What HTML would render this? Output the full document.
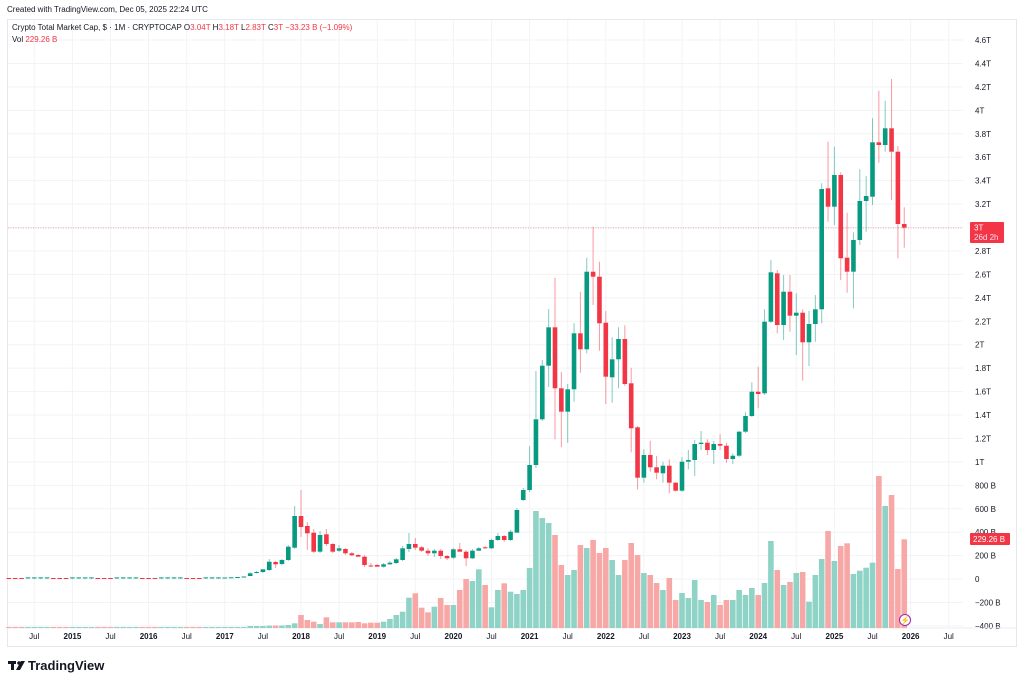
<!DOCTYPE html>
<html><head><meta charset="utf-8"><style>
body{margin:0;background:#fff;width:1024px;height:687px;overflow:hidden;font-family:"Liberation Sans",sans-serif}
svg{position:absolute;left:0;top:0}
</style></head><body>
<svg id="c" width="1024" height="687" xmlns="http://www.w3.org/2000/svg" font-family="Liberation Sans, sans-serif"></svg>
<script>
const G='#089981',R='#f23645',VG='#8fd3c6',VR='#f7a8a6';
let s='';
s+='<rect x="7.5" y="19.5" width="1009" height="627" fill="#fff" stroke="#e6e8ee"/>';
// grid horizontals
const ticks=['4.6T','4.4T','4.2T','4T','3.8T','3.6T','3.4T','3.2T','3T','2.8T','2.6T','2.4T','2.2T','2T','1.8T','1.6T','1.4T','1.2T','1T','800 B','600 B','400 B','200 B','0','−200 B','−400 B'];
for(let i=0;i<ticks.length;i++){const y=40+i*(586/25);
 s+=`<line x1="8" x2="963" y1="${y}" y2="${y}" stroke="#f2f3f6"/>`;
 if(ticks[i]!=='3T') s+=`<text x="975" y="${y+3}" font-size="8" fill="#131722">${ticks[i]}</text>`;}
// vertical grid + time labels
for(let Y=2014;Y<=2026;Y++){for(const h of [0,0.5]){const x=301+(Y-2018+h)*76.2;if(x<20||x>960)continue;
 s+=`<line x1="${x}" x2="${x}" y1="20" y2="628" stroke="#f2f3f6"/>`;
 s+=`<text x="${x}" y="639" font-size="8" fill="#131722" text-anchor="middle" font-weight="${h?'normal':'bold'}">${h?'Jul':Y}</text>`;}}
s+='<line x1="8" x2="1016" y1="628" y2="628" stroke="#eceef2"/>';
// data: [o,h,l,c] pixel y
let D=[];
for(let i=0;i<34;i++){D.push([578,577.5,579,578.6-(i%7<3?0:1.2)]);}
D.push(...[
[578,577.5,578.5,577.5],[577.5,577,578,577.3],[577.3,576.5,578,577],[577,576,577.5,576.5],
[576,572,576.5,573.3],[572.7,571,573.5,572],[572,569,573,569.3],[570,559,571,561.7],[562,561,568,564.3],[564,559,565,560],[560,545,561,546.7],[547.7,506,549,516],
[516,490,537,527],[526,522,550,533.3],[532.7,529,553,551.7],[551.7,531,553,535],[534.3,529,546,544],[544,543,553,551.7],[550.7,545,552,548.3],[549,548,555,553.3],[553.3,552,556,555.3],[555,554,557,556.7],[556.7,555,567,565],[565.5,563,567,566],
[565,564,567,566.7],[566.7,563,567.5,564.3],[564.3,561,565,562.7],[563,558,564,559.3],[560,546,561,548.3],[549,533,552,544],[544,538,550,547.7],[547.3,546,552,550.7],[550.7,548,556,553.3],[553.3,549,557,550.7],[550.7,549,559,556],[556,555,560,558.3],
[557.7,548,559,549.3],[549.3,543,552,551.7],[551.7,550,566,558.3],[558.3,549,559,550.7],[550.7,547,551,548.3],[547.3,546,549,548.3],[548.3,539,549,540],[540,533,541,536],[536,535,542,540],[540,530,541,531.7],[532.7,508,533,510],
[500,488,501,490],
[490,446,492,465],[465,371,468,419.3],[419.3,360,421,365.7],[365.7,309,387,327.3],[327.3,277.7,439.3,388.3],[388.3,372,447.3,411.7],[411.7,384,442.7,389.3],[389.3,323.3,401.7,333.3],[333.3,291.7,372.7,349.3],[349.3,257.7,353.3,271.7],[271.7,226.7,305,276.7],[276.7,261.7,350.7,323.3],
[322.7,311,404,376.7],[377.3,337.3,402.7,359.3],[359.3,327.3,388.3,339],[339,325.3,386,384],[383.3,367.7,452.3,428.3],[427.3,426,489.3,477.7],[477.7,449.3,482.7,455],[455,440.7,471.7,467.3],[467.3,456,479.3,472.7],[473.3,461.7,482.7,465.7],[465.7,459.3,493.3,482.7],[482.7,482,491.7,490.7],
[490.7,457.3,492,461.7],[461.7,450,469.3,460],[460,440,476,444],[444,431,450,442.7],[442.7,439.3,455,450],[450,441,464,444],[444,434.3,450,445.7],[445.7,442.7,462.7,459],[459,453.3,464,455.7],[455.7,430.7,457,431.7],[431.7,412.3,433,416],[416,382.3,417,391.7],
[391.7,366.7,408.3,394],[393.3,309.3,395,321.7],[321.7,260,323,272.3],[273.3,270,333.3,325],[325,275,340,291.7],[291.7,275,331.7,315.7],[315.7,293.3,355,312.7],[312.7,309.3,380.7,342.3],[342.3,311,366,324],[324,295,341.7,309.3],[309.3,183.3,323.3,189],[188.3,141.7,221.7,206.7],
[206.7,146.7,225,175],[175,172.3,280,258.3],[257.7,212.7,292.7,271.7],[271.7,232.3,308.3,240],[240,169.3,245,201],[201,176,231.7,196],[196.7,118.3,205,142.3],[142.3,90.7,162.7,145],[145,100.7,151.7,128.3],[128.3,79,200,151.7],[151.7,146,258.3,224],[224,207.3,247.7,227.7]
]);
// volume tops (pixel y)
let V=[];for(let i=0;i<34+4;i++)V.push(627);
V.push(626,626,626,625.5,625.5,625.5,625,623.3);
const hv=[13,8,6.3,4,10.7,5.7,5.7,5.7,5.7,6,4.7,5.3, 5.3,6.3,9,13,16.3,30.3,34.7,20.3,15.7,21.3,30,23, 23,38,49,47,58.7,43,20.7,38,44.7,36.3,34];
hv.forEach(h=>V.push(628-h));
V.push(...[590,568,511,518,523,535,565,575,570,545,548,540,553,548,560,575,560,543,555,573,575,583,590,578,600,593,598,580,600,602,595,605,600,600,590,595,588,595,583,541,570,585,582,573,572,601.7,575,559,531,561,546,543.3,574,570.7,567.7,562.7,476,506,495,569,539.3]);
const m0=-46;
// volume
D.forEach((d,i)=>{const x=301+(m0+i)*6.35;const up=d[3]<=d[0];const t=V[i]??627;
 s+=`<rect x="${x-2.8}" y="${t}" width="5.6" height="${Math.max(628-t,0.8)}" fill="${up?VG:VR}"/>`;});
// price line
s+='<line x1="8" x2="963" y1="228" y2="228" stroke="#f23645" stroke-opacity=".45" stroke-dasharray="1,1.5"/>';
// candles
D.forEach((d,i)=>{const x=301+(m0+i)*6.35;const up=d[3]<=d[0];const c=up?G:R;
 const top=Math.min(d[0],d[3]),bot=Math.max(d[0],d[3]);
 if(d[1]<top-0.5)s+=`<line x1="${x}" x2="${x}" y1="${d[1]}" y2="${top}" stroke="${c}" stroke-opacity=".5"/>`;
 if(d[2]>bot+0.5)s+=`<line x1="${x}" x2="${x}" y1="${bot}" y2="${d[2]}" stroke="${c}" stroke-opacity=".5"/>`;
 s+=`<rect x="${x-2.3}" y="${top}" width="4.6" height="${Math.max(bot-top,1)}" fill="${c}"/>`;});
// labels
s+='<rect x="970" y="222" width="34" height="21" rx="1" fill="#f23645"/><text x="974" y="230.5" font-size="8" fill="#fff">3T</text><text x="974" y="240" font-size="8" fill="#fde">26d 2h</text>';
s+='<rect x="970" y="533" width="40" height="12" rx="1" fill="#f23645"/><text x="973" y="542" font-size="8" fill="#fff">229.26 B</text>';
s+='<circle cx="905" cy="620" r="5.5" fill="#fff" stroke="#9c27b0"/><text x="905" y="623" font-size="8" fill="#9c27b0" text-anchor="middle">⚡</text>';
// header
s+='<text x="7" y="12" font-size="8" fill="#131722">Created with TradingView.com, Dec 05, 2025 22:24 UTC</text>';
s+='<text x="12" y="30" font-size="8" fill="#131722">Crypto Total Market Cap, $ · 1M · CRYPTOCAP  O<tspan fill="#f23645">3.04T</tspan>  H<tspan fill="#f23645">3.18T</tspan>  L<tspan fill="#f23645">2.83T</tspan>  C<tspan fill="#f23645">3T  −33.23 B (−1.09%)</tspan></text>';
s+='<text x="12" y="42" font-size="8" fill="#131722">Vol  <tspan fill="#f23645">229.26 B</tspan></text>';
// logo
s+='<rect x="8" y="661" width="8" height="3" fill="#131722"/><rect x="11" y="661" width="3" height="9" fill="#131722"/><circle cx="19" cy="663" r="1.8" fill="#131722"/><polygon points="21,661 25,661 20,670 16,670" fill="#131722"/>';
s+='<text x="28" y="670" font-size="13" font-weight="bold" fill="#131722">TradingView</text>';
document.getElementById('c').innerHTML=s;
</script>
</body></html>
